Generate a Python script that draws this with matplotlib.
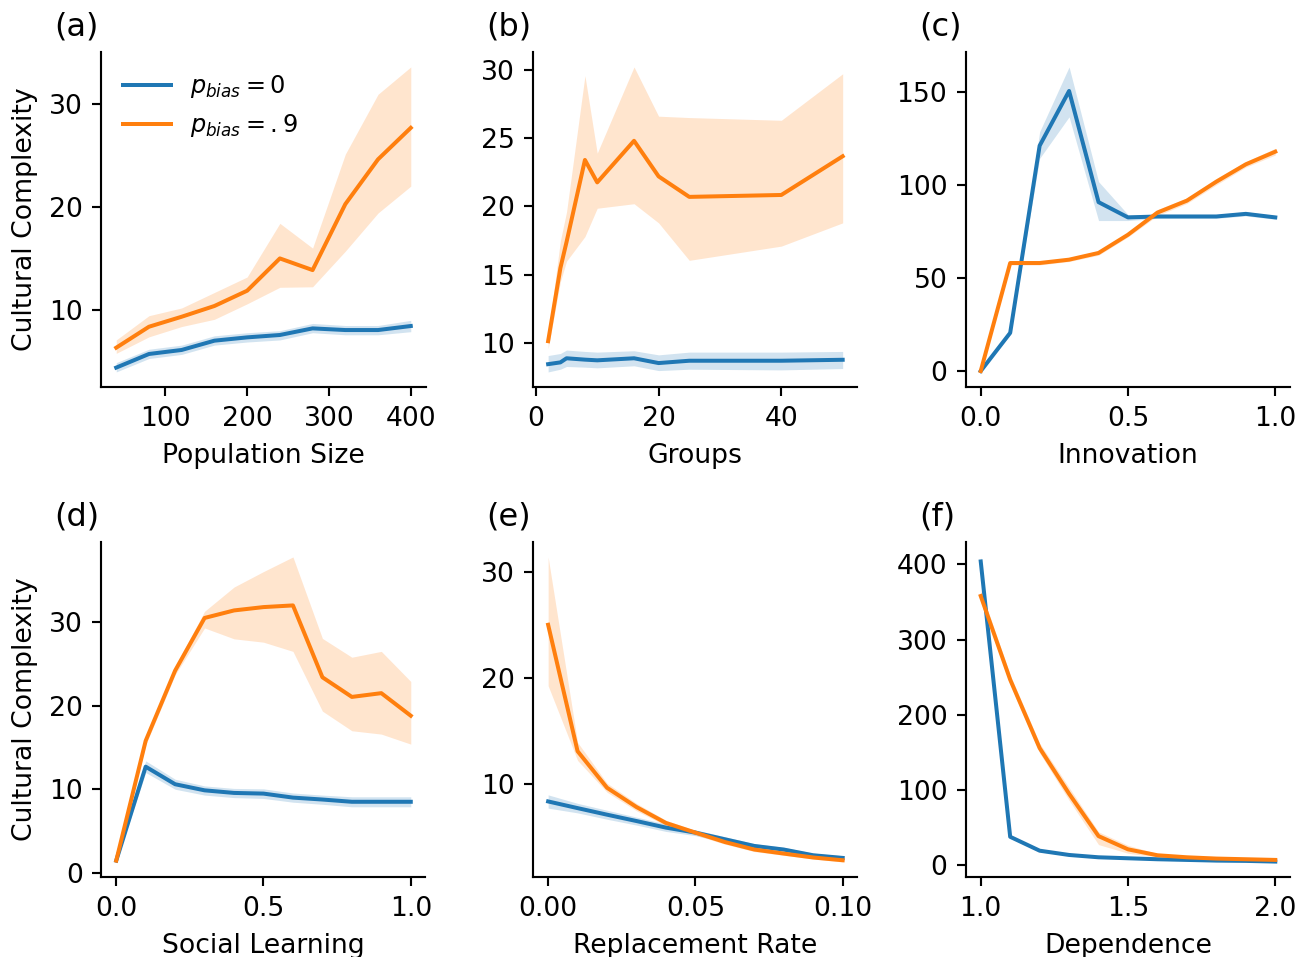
import matplotlib
matplotlib.use("Agg")
import matplotlib.pyplot as plt

BLUE = "#1f77b4"
ORANGE = "#ff7f0e"

# (a) Population Size
pop = [40, 80, 120, 160, 200, 240, 280, 320, 360, 400]
a_blue = [4.42, 5.74, 6.13, 7.03, 7.35, 7.58, 8.22, 8.06, 8.06, 8.45]
a_blue_lo = [4.0, 5.3, 5.7, 6.6, 6.9, 7.1, 7.8, 7.6, 7.6, 7.9]
a_blue_hi = [4.9, 6.2, 6.6, 7.5, 7.8, 8.0, 8.7, 8.5, 8.5, 9.0]
a_orange = [6.35, 8.38, 9.35, 10.39, 11.87, 15.0, 13.87, 20.26, 24.6, 27.65]
a_orange_lo = [5.8, 7.4, 8.4, 9.1, 10.6, 12.2, 12.25, 15.7, 19.4, 22.0]
a_orange_hi = [7.1, 9.45, 10.2, 11.7, 13.2, 18.4, 16.0, 25.1, 30.9, 33.55]

# (b) Groups
groups = [2, 4, 5, 8, 10, 16, 20, 25, 40, 50]
b_blue = [8.47, 8.6, 8.9, 8.8, 8.75, 8.9, 8.55, 8.72, 8.72, 8.79]
b_blue_lo = [7.9, 8.1, 8.3, 8.25, 8.2, 8.35, 8.0, 8.1, 8.05, 8.15]
b_blue_hi = [9.1, 9.25, 9.5, 9.4, 9.35, 9.45, 9.15, 9.35, 9.35, 9.4]
b_orange = [10.15, 15.5, 17.4, 23.4, 21.76, 24.8, 22.2, 20.7, 20.84, 23.67]
b_orange_lo = [9.6, 14.5, 16.0, 17.8, 19.87, 20.2, 18.8, 16.06, 17.1, 18.8]
b_orange_hi = [10.6, 17.5, 19.6, 29.56, 23.9, 30.2, 26.6, 26.5, 26.3, 29.7]

# (c) Innovation
innov = [0.0, 0.1, 0.2, 0.3, 0.4, 0.5, 0.6, 0.7, 0.8, 0.9, 1.0]
c_blue = [0, 20.5, 121, 150.4, 90.7, 82.5, 83, 83, 83, 84.4, 82.5]
c_blue_lo = [-0.5, 19.5, 114.2, 136.5, 80.8, 80.8, 82, 82, 82, 83.3, 81.5]
c_blue_hi = [0.5, 21.5, 128.5, 163.3, 101.7, 84, 84, 84, 84, 85.5, 83.5]
c_orange = [0, 58, 58, 59.8, 63.4, 73.2, 85.1, 91.5, 101.7, 111, 117.8]
c_orange_lo = [-0.5, 57, 57, 58.8, 62.2, 72, 83.5, 90, 100, 109.5, 116]
c_orange_hi = [0.5, 59, 59, 60.8, 64.6, 74.4, 86.7, 93, 103.4, 112.5, 119.6]

# (d) Social Learning
social = [0.0, 0.1, 0.2, 0.3, 0.4, 0.5, 0.6, 0.7, 0.8, 0.9, 1.0]
d_blue = [1.46, 12.7, 10.6, 9.87, 9.56, 9.48, 9.0, 8.77, 8.5, 8.5, 8.5]
d_blue_lo = [1.3, 12.0, 10.0, 9.3, 9.0, 8.9, 8.45, 8.2, 7.9, 7.9, 7.9]
d_blue_hi = [1.6, 13.4, 11.2, 10.4, 10.1, 10.05, 9.55, 9.3, 9.1, 9.1, 9.1]
d_orange = [1.46, 15.8, 24.2, 30.5, 31.4, 31.8, 32.0, 23.4, 21.05, 21.5, 18.8]
d_orange_lo = [1.3, 15.3, 23.7, 29.3, 28.0, 27.6, 26.5, 19.35, 17.0, 16.6, 15.4]
d_orange_hi = [1.6, 16.3, 24.7, 31.3, 34.2, 36.05, 37.8, 28.05, 25.8, 26.5, 22.9]

# (e) Replacement Rate
repl = [0.0, 0.01, 0.02, 0.03, 0.04, 0.05, 0.06, 0.07, 0.08, 0.09, 0.10]
e_blue = [8.33, 7.7, 7.08, 6.48, 5.86, 5.39, 4.76, 4.13, 3.79, 3.25, 3.0]
e_blue_lo = [7.7, 7.25, 6.65, 6.1, 5.5, 5.1, 4.5, 3.9, 3.55, 3.05, 2.8]
e_blue_hi = [8.95, 8.15, 7.5, 6.85, 6.2, 5.65, 5.0, 4.35, 4.0, 3.45, 3.2]
e_orange = [25.0, 13.07, 9.62, 7.8, 6.3, 5.39, 4.5, 3.79, 3.41, 3.04, 2.78]
e_orange_lo = [19.25, 12.2, 9.2, 7.45, 6.05, 5.15, 4.3, 3.6, 3.25, 2.9, 2.62]
e_orange_hi = [31.4, 13.9, 10.05, 8.15, 6.55, 5.6, 4.7, 3.95, 3.57, 3.2, 2.95]

# (f) Dependence
dep = [1.0, 1.1, 1.2, 1.3, 1.4, 1.5, 1.6, 1.7, 1.8, 1.9, 2.0]
f_blue = [404, 37.4, 18.9, 13.2, 10.1, 8.8, 7.5, 6.6, 5.7, 5.3, 4.4]
f_blue_lo = [398, 35.5, 17.5, 12.2, 9.3, 8.1, 6.9, 6.0, 5.2, 4.8, 3.9]
f_blue_hi = [410, 39.3, 20.3, 14.2, 10.9, 9.5, 8.1, 7.2, 6.2, 5.8, 4.9]
f_orange = [358, 246.6, 155.5, 94.7, 38.3, 20.7, 12.8, 10.1, 8.4, 7.5, 6.6]
f_orange_lo = [350, 240, 149, 86, 27, 15.5, 10.5, 8.5, 7.2, 6.4, 5.6]
f_orange_hi = [366, 253, 162, 103, 44, 26, 15.1, 11.7, 9.6, 8.6, 7.6]

series_labels = [r"$p_{bias} = 0$", r"$p_{bias} = .9$"]
panel_titles = ["(a)", "(b)", "(c)", "(d)", "(e)", "(f)"]
x_labels = ["Population Size", "Groups", "Innovation",
            "Social Learning", "Replacement Rate", "Dependence"]
y_label = "Cultural Complexity"
x_ticks = [[100, 200, 300, 400], [0, 20, 40], [0.0, 0.5, 1.0],
           [0.0, 0.5, 1.0], [0.00, 0.05, 0.10], [1.0, 1.5, 2.0]]
x_ticklabels = [["100", "200", "300", "400"], ["0", "20", "40"],
                ["0.0", "0.5", "1.0"], ["0.0", "0.5", "1.0"],
                ["0.00", "0.05", "0.10"], ["1.0", "1.5", "2.0"]]

panels = [
    (pop, a_blue, a_blue_lo, a_blue_hi, a_orange, a_orange_lo, a_orange_hi),
    (groups, b_blue, b_blue_lo, b_blue_hi, b_orange, b_orange_lo, b_orange_hi),
    (innov, c_blue, c_blue_lo, c_blue_hi, c_orange, c_orange_lo, c_orange_hi),
    (social, d_blue, d_blue_lo, d_blue_hi, d_orange, d_orange_lo, d_orange_hi),
    (repl, e_blue, e_blue_lo, e_blue_hi, e_orange, e_orange_lo, e_orange_hi),
    (dep, f_blue, f_blue_lo, f_blue_hi, f_orange, f_orange_lo, f_orange_hi),
]

W, H = 1297, 957
DPI = 192
fig = plt.figure(figsize=(W / DPI, H / DPI), dpi=DPI)

col_left = [101.5, 533.4, 966.0]
ax_w = 324.0
row_top = [51.7, 541.7]
ax_h = 335.5

axes = []
for i in range(6):
    r, c = divmod(i, 3)
    left = col_left[c] / W
    bottom = (H - (row_top[r] + ax_h)) / H
    ax = fig.add_axes([left, bottom, ax_w / W, ax_h / H])
    axes.append(ax)

for i, ax in enumerate(axes):
    x, yb, ybl, ybh, yo, yol, yoh = panels[i]
    ax.fill_between(x, ybl, ybh, color=BLUE, alpha=0.2, linewidth=0)
    ax.plot(x, yb, color=BLUE, lw=1.5, label=series_labels[0])
    ax.fill_between(x, yol, yoh, color=ORANGE, alpha=0.2, linewidth=0)
    ax.plot(x, yo, color=ORANGE, lw=1.5, label=series_labels[1])
    ax.set_xticks(x_ticks[i])
    ax.set_xticklabels(x_ticklabels[i])
    ax.set_xlabel(x_labels[i], fontsize=10)
    ax.spines["top"].set_visible(False)
    ax.spines["right"].set_visible(False)
    ax.tick_params(labelsize=10)
    ax.set_title(panel_titles[i], loc="left", x=-0.145, fontsize=12)
    if i % 3 == 0:
        ax.set_ylabel(y_label, fontsize=10)

axes[0].legend(loc="upper left", frameon=False, fontsize=9)

fig.savefig("out.png", dpi=DPI)
